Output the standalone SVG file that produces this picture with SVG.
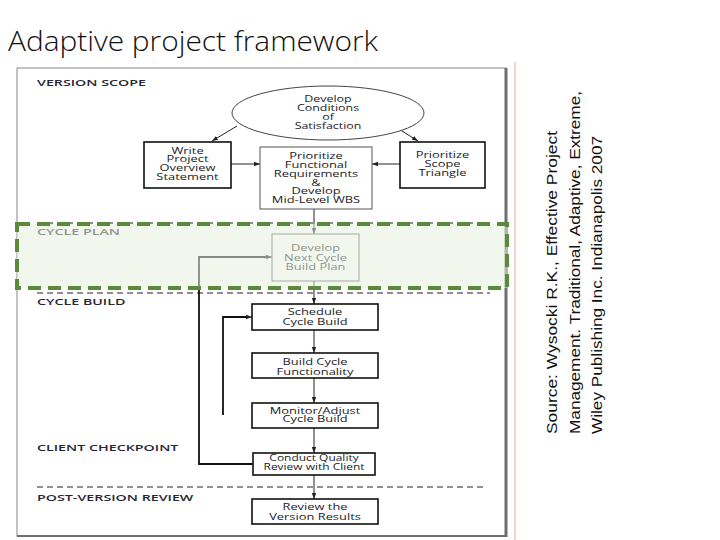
<svg xmlns="http://www.w3.org/2000/svg" width="720" height="540" viewBox="0 0 720 540">
<style>
.t{font-family:"Open Sans","DejaVu Sans",sans-serif;font-size:9.2px;fill:#1c1c28;text-anchor:middle}
.sec{font-family:"Open Sans","DejaVu Sans",sans-serif;font-size:9.5px;font-weight:600;fill:#262634}
.box{fill:#fff;stroke:#111;stroke-width:1.6}
.thin{fill:#fff;stroke:#555;stroke-width:1}
.c{fill:none;stroke:#222;stroke-width:1}
.loop{fill:none;stroke:#111;stroke-width:1.8}
.dash{stroke:#222;stroke-width:1;stroke-dasharray:6 4}
.src{font-family:"Liberation Sans",Arial,sans-serif;font-size:15px;fill:#111}
</style>
<defs>
<marker id="ah" viewBox="0 0 6 6" refX="6" refY="3" markerWidth="6" markerHeight="6" markerUnits="userSpaceOnUse" orient="auto">
<path d="M0,0.8 L6,3 L0,5.2 Z" fill="#222"/>
</marker>
</defs>
<rect width="720" height="540" fill="#fff"/>
<text x="8" y="51" font-family="'Open Sans','DejaVu Sans',sans-serif" font-weight="300" font-size="27" fill="#111" textLength="370" lengthAdjust="spacingAndGlyphs">Adaptive project framework</text>
<g id="frame">
<rect x="17" y="68" width="489" height="468" fill="#fff" stroke="#8a8a8a" stroke-width="1"/>
<line x1="506" y1="68" x2="506" y2="537" stroke="#6e6e6e" stroke-width="3"/>
<line x1="17" y1="536" x2="507" y2="536" stroke="#6e6e6e" stroke-width="2"/>
<line x1="515" y1="62" x2="515" y2="540" stroke="#e3a8a8" stroke-width="1"/>
</g>
<g id="sections">
<line class="dash" x1="37" y1="223" x2="490" y2="223"/>
<line class="dash" x1="37" y1="293" x2="490" y2="293"/>
<line class="dash" x1="37" y1="487" x2="487" y2="487"/>
<g transform="translate(37,86) scale(1.5,1)"><text class="sec" x="0" y="0">VERSION SCOPE</text></g>
<g transform="translate(37,235) scale(1.5,1)"><text class="sec" x="0" y="0">CYCLE PLAN</text></g>
<g transform="translate(37,305) scale(1.5,1)"><text class="sec" x="0" y="0">CYCLE BUILD</text></g>
<g transform="translate(37,451) scale(1.5,1)"><text class="sec" x="0" y="0">CLIENT CHECKPOINT</text></g>
<g transform="translate(37,501) scale(1.5,1)"><text class="sec" x="0" y="0">POST-VERSION REVIEW</text></g>
</g>
<g id="connectors">
<line class="c" x1="237" y1="126" x2="212" y2="141" marker-end="url(#ah)"/>
<line class="c" x1="394" y1="126" x2="418" y2="141" marker-end="url(#ah)"/>
<line class="c" x1="231" y1="164" x2="260" y2="164" marker-end="url(#ah)"/>
<line class="c" x1="400" y1="164" x2="372" y2="164" marker-end="url(#ah)"/>
<line class="c" x1="314" y1="209" x2="314" y2="234" marker-end="url(#ah)"/>
<line class="c" x1="314" y1="281" x2="314" y2="304" marker-end="url(#ah)"/>
<line class="c" x1="314" y1="330" x2="314" y2="353" marker-end="url(#ah)"/>
<line class="c" x1="314" y1="378" x2="314" y2="403" marker-end="url(#ah)"/>
<line class="c" x1="314" y1="428" x2="314" y2="453" marker-end="url(#ah)"/>
<line class="c" x1="314" y1="475" x2="314" y2="499" marker-end="url(#ah)"/>
<path class="loop" d="M253,464 H199 V257 H266"/>
<path d="M266,257 H272" class="c" marker-end="url(#ah)"/>
<path class="loop" d="M223,415 V317 H246"/>
<path d="M246,317 H252" class="c" marker-end="url(#ah)"/>
</g>
<g id="n-conditions">
<ellipse cx="328" cy="113" rx="96" ry="27" fill="#fff" stroke="#444" stroke-width="1"/>
<g transform="translate(328,0) scale(1.35,1)">
<text class="t" x="0" y="102">Develop</text>
<text class="t" x="0" y="111.5">Conditions</text>
<text class="t" x="0" y="120.5">of</text>
<text class="t" x="0" y="129.5">Satisfaction</text>
</g>
</g>
<g id="n-overview">
<rect class="box" x="144" y="142" width="87" height="46"/>
<g transform="translate(187.5,0) scale(1.4,1)">
<text class="t" x="0" y="154">Write</text>
<text class="t" x="0" y="162.5">Project</text>
<text class="t" x="0" y="171">Overview</text>
<text class="t" x="0" y="180">Statement</text>
</g>
</g>
<g id="n-prioritize">
<rect class="thin" x="260" y="147" width="112" height="62"/>
<g transform="translate(316,0) scale(1.4,1)">
<text class="t" x="0" y="159">Prioritize</text>
<text class="t" x="0" y="168">Functional</text>
<text class="t" x="0" y="177">Requirements</text>
<text class="t" x="0" y="186">&amp;</text>
<text class="t" x="0" y="194">Develop</text>
<text class="t" x="0" y="203">Mid-Level WBS</text>
</g>
</g>
<g id="n-triangle">
<rect class="box" x="400" y="142" width="85" height="46"/>
<g transform="translate(442.5,0) scale(1.4,1)">
<text class="t" x="0" y="158">Prioritize</text>
<text class="t" x="0" y="167">Scope</text>
<text class="t" x="0" y="176">Triangle</text>
</g>
</g>
<g id="n-nextcycle">
<rect class="thin" x="272" y="234" width="87" height="47"/>
<g transform="translate(315.5,0) scale(1.4,1)">
<text class="t" x="0" y="251">Develop</text>
<text class="t" x="0" y="261">Next Cycle</text>
<text class="t" x="0" y="270">Build Plan</text>
</g>
</g>
<g id="n-schedule">
<rect class="box" x="252" y="304" width="126" height="26"/>
<g transform="translate(315,0) scale(1.4,1)">
<text class="t" x="0" y="315.5">Schedule</text>
<text class="t" x="0" y="325">Cycle Build</text>
</g>
</g>
<g id="n-build">
<rect class="box" x="252" y="353" width="126" height="25"/>
<g transform="translate(315,0) scale(1.4,1)">
<text class="t" x="0" y="365">Build Cycle</text>
<text class="t" x="0" y="375">Functionality</text>
</g>
</g>
<g id="n-monitor">
<rect class="box" x="252" y="403" width="126" height="25"/>
<g transform="translate(315,0) scale(1.4,1)">
<text class="t" x="0" y="414">Monitor/Adjust</text>
<text class="t" x="0" y="422.5">Cycle Build</text>
</g>
</g>
<g id="n-quality">
<rect class="box" x="253" y="453" width="122" height="22"/>
<g transform="translate(314,0) scale(1.3,1)">
<text class="t" x="0" y="461.5">Conduct Quality</text>
<text class="t" x="0" y="470.5">Review with Client</text>
</g>
</g>
<g id="n-review">
<rect class="box" x="252" y="499" width="126" height="25"/>
<g transform="translate(315,0) scale(1.4,1)">
<text class="t" x="0" y="510">Review the</text>
<text class="t" x="0" y="520">Version Results</text>
</g>
</g>
<g id="highlight">
<rect x="17" y="224" width="490" height="64" fill="#e6f0df" fill-opacity="0.55" stroke="#5b8a3c" stroke-width="4" stroke-dasharray="13 7"/>
</g>
<g id="source" transform="rotate(-90)">
<text class="src" x="-434" y="557" textLength="303" lengthAdjust="spacingAndGlyphs">Source: Wysocki R.K., Effective Project</text>
<text class="src" x="-434" y="580" textLength="343" lengthAdjust="spacingAndGlyphs">Management. Traditional, Adaptive, Extreme,</text>
<text class="src" x="-434" y="602" textLength="298" lengthAdjust="spacingAndGlyphs">Wiley Publishing Inc. Indianapolis 2007</text>
</g>
</svg>
